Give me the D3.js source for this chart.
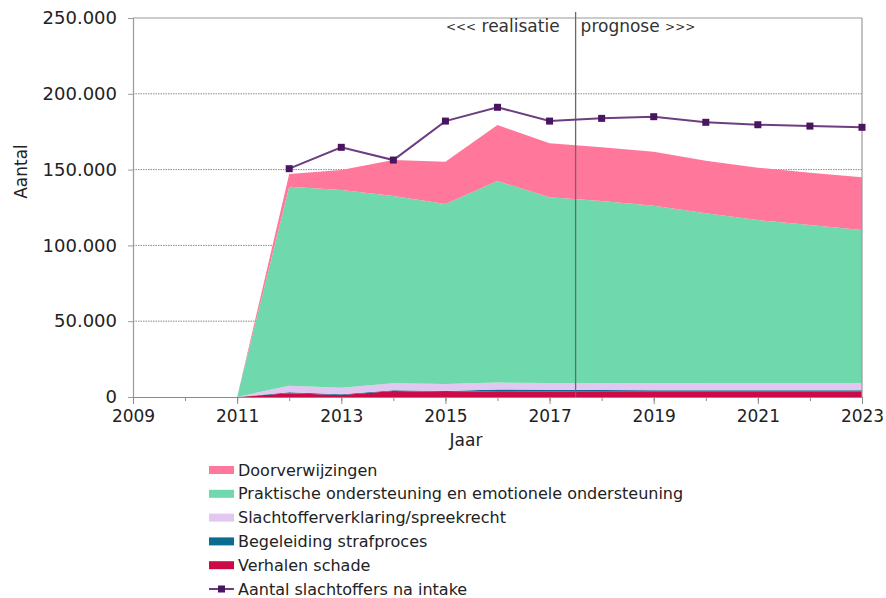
<!DOCTYPE html>
<html>
<head>
<meta charset="utf-8">
<script src="https://cdn.jsdelivr.net/npm/d3@7/dist/d3.min.js"></script>
<style>
  html, body { margin: 0; padding: 0; background: #ffffff; }
  svg { display: block; font-family: "DejaVu Sans", Verdana, sans-serif; }
</style>
</head>
<body>
<svg id="chart" width="886" height="598"></svg>
<script>
// Years covered by the stacked areas (2011 is the zero starting point)
const years = [2011, 2012, 2013, 2014, 2015, 2016, 2017, 2018, 2019, 2020, 2021, 2022, 2023];

// Stacked series, bottom to top
const verhalenSchade      = [0, 2400, 1300, 4000, 3300, 3800, 3600, 3500, 3500, 3400, 3400, 3400, 3400];
const begeleidingStraf    = [0, 700, 500, 400, 700, 1200, 1200, 1100, 1000, 1100, 1000, 1000, 1000];
const slachtofferverkl    = [0, 4300, 4300, 4600, 4600, 4500, 4500, 4600, 4700, 4600, 4600, 4600, 4600];
const praktischeOnderst   = [0, 131300, 130400, 123600, 118700, 133000, 122400, 120100, 117000, 112100, 107700, 104500, 101200];
const doorverwijzingen    = [0, 8400, 13200, 23700, 27900, 36900, 35600, 35400, 35600, 34700, 34600, 34500, 34700];

// Line series: victims after intake (from 2012)
const intakeYears = [2012, 2013, 2014, 2015, 2016, 2017, 2018, 2019, 2020, 2021, 2022, 2023];
const slachtoffersNaIntake = [150600, 164700, 156300, 182000, 191100, 182000, 183800, 184900, 181200, 179600, 178700, 177900];

// Axis ticks
const xTickLabels = [2009, 2011, 2013, 2015, 2017, 2019, 2021, 2023];
const xMinorTicks = d3.range(2009, 2024);
const yTicks = [0, 50000, 100000, 150000, 200000, 250000];

const seriesNames = [
  "Verhalen schade",
  "Begeleiding strafproces",
  "Slachtofferverklaring/spreekrecht",
  "Praktische ondersteuning en emotionele ondersteuning",
  "Doorverwijzingen"
];
const seriesColors = ["#cc0a45", "#0a6d8f", "#e2c8f0", "#6fd8ad", "#ff779b"];
const lineName = "Aantal slachtoffers na intake";
const lineColor = "#6e3d80";
const markerColor = "#4a1560";

const svg = d3.select("#chart");
const margin = { left: 133, right: 24, top: 18, bottom: 201 };
const W = 886, H = 598;
const x = d3.scaleLinear().domain([2009, 2023]).range([margin.left, W - margin.right]);
const y = d3.scaleLinear().domain([0, 250000]).range([H - margin.bottom, margin.top]);

const fmt = v => v === 0 ? "0" : d3.format(",")(v).replace(/,/g, ".");

// Gridlines (dotted)
svg.append("g")
  .selectAll("line")
  .data(yTicks.filter(v => v > 0 && v < 250000))
  .join("line")
  .attr("x1", x(2009)).attr("x2", x(2023))
  .attr("y1", d => y(d)).attr("y2", d => y(d))
  .attr("stroke", "#8a8a8a").attr("stroke-width", 1)
  .attr("stroke-dasharray", "1.5,1");

// Stacked areas
const table = years.map((yr, i) => ({
  year: yr,
  s0: verhalenSchade[i], s1: begeleidingStraf[i], s2: slachtofferverkl[i],
  s3: praktischeOnderst[i], s4: doorverwijzingen[i]
}));
const stack = d3.stack().keys(["s0", "s1", "s2", "s3", "s4"]);
const layers = stack(table);
const area = d3.area()
  .x(d => x(d.data.year))
  .y0(d => y(d[0]))
  .y1(d => y(d[1]));
svg.append("g")
  .selectAll("path")
  .data(layers)
  .join("path")
  .attr("d", area)
  .attr("fill", (d, i) => seriesColors[i]);

// Plot frame: top and right border
svg.append("line")
  .attr("x1", x(2009)).attr("x2", x(2023)).attr("y1", y(250000)).attr("y2", y(250000))
  .attr("stroke", "#9a9a9a").attr("stroke-width", 1.2);
svg.append("line")
  .attr("x1", x(2023)).attr("x2", x(2023)).attr("y1", y(250000)).attr("y2", y(0))
  .attr("stroke", "#9a9a9a").attr("stroke-width", 1.2);

// Divider between realised and forecast years
svg.append("line")
  .attr("x1", x(2017.5)).attr("x2", x(2017.5))
  .attr("y1", 12).attr("y2", y(0))
  .attr("stroke", "#6a6a6a").attr("stroke-width", 1.3);
const tLeft = svg.append("text")
  .attr("x", x(2017.5) - 16).attr("y", 32)
  .attr("text-anchor", "end")
  .attr("font-size", 17).attr("fill", "#333");
tLeft.append("tspan").attr("font-size", 12).attr("dy", -1).text("<<<");
tLeft.append("tspan").attr("dy", 1).text(" realisatie");
const tRight = svg.append("text")
  .attr("x", x(2017.5) + 5).attr("y", 32)
  .attr("text-anchor", "start")
  .attr("font-size", 17).attr("fill", "#333");
tRight.append("tspan").text("prognose ");
tRight.append("tspan").attr("font-size", 12).attr("dy", -1).text(">>>");

// Y axis
const yAxis = d3.axisLeft(y).tickValues(yTicks).tickFormat(fmt).tickSize(5).tickPadding(11);
const gy = svg.append("g").attr("transform", `translate(${margin.left},0)`).call(yAxis);
gy.select(".domain").attr("stroke", "#9a9a9a").attr("stroke-width", 1.2);
gy.selectAll(".tick line").attr("stroke", "#9a9a9a");
gy.selectAll(".tick text").attr("font-size", 18).attr("fill", "#222")
  .attr("font-family", "DejaVu Sans, Verdana, sans-serif");

// X axis: minor ticks every year, labelled ticks every two years
const gxMinor = svg.append("g").attr("transform", `translate(0,${y(0)})`)
  .call(d3.axisBottom(x).tickValues(xMinorTicks).tickFormat("").tickSize(4).tickSizeOuter(0));
gxMinor.select(".domain").attr("stroke", "#8a8a8a").attr("stroke-width", 1.2);
gxMinor.selectAll(".tick line").attr("stroke", "#8a8a8a");
const gx = svg.append("g").attr("transform", `translate(0,${y(0)})`)
  .call(d3.axisBottom(x).tickValues(xTickLabels).tickFormat(d3.format("d")).tickSize(7).tickSizeOuter(0).tickPadding(6));
gx.select(".domain").remove();
gx.selectAll(".tick line").attr("stroke", "#8a8a8a");
gx.selectAll(".tick text").attr("font-size", 17).attr("fill", "#222")
  .attr("font-family", "DejaVu Sans, Verdana, sans-serif");

// Axis titles
svg.append("text")
  .attr("transform", `translate(27,${(y(250000) + y(0)) / 2 - 36}) rotate(-90)`)
  .attr("text-anchor", "middle").attr("font-size", 17).attr("fill", "#222")
  .text("Aantal");
svg.append("text")
  .attr("x", 466).attr("y", 446)
  .attr("text-anchor", "middle").attr("font-size", 17).attr("fill", "#222")
  .text("Jaar");

// Line with square markers
const line = d3.line().x((d, i) => x(intakeYears[i])).y(d => y(d));
svg.append("path")
  .datum(slachtoffersNaIntake)
  .attr("d", line)
  .attr("fill", "none").attr("stroke", lineColor).attr("stroke-width", 2);
svg.append("g")
  .selectAll("rect")
  .data(slachtoffersNaIntake)
  .join("rect")
  .attr("x", (d, i) => x(intakeYears[i]) - 3.5)
  .attr("y", d => y(d) - 3.5)
  .attr("width", 7).attr("height", 7)
  .attr("fill", markerColor);

// Legend
const legendItems = seriesNames.map((n, i) => ({ name: n, color: seriesColors[i] })).reverse();
const lg = svg.append("g").attr("transform", "translate(209,470)");
legendItems.forEach((it, i) => {
  const g = lg.append("g").attr("transform", `translate(0,${i * 23.8})`);
  g.append("rect").attr("x", 0).attr("y", -4).attr("width", 25).attr("height", 8).attr("fill", it.color);
  g.append("text").attr("x", 29).attr("y", 5.5).attr("font-size", 16).attr("fill", "#222").text(it.name);
});
const lgLine = lg.append("g").attr("transform", `translate(0,${5 * 23.8})`);
lgLine.append("line").attr("x1", 0).attr("x2", 25).attr("y1", 0).attr("y2", 0)
  .attr("stroke", lineColor).attr("stroke-width", 2);
lgLine.append("rect").attr("x", 9).attr("y", -3.5).attr("width", 7).attr("height", 7).attr("fill", markerColor);
lgLine.append("text").attr("x", 29).attr("y", 5.5).attr("font-size", 16).attr("fill", "#222").text(lineName);
</script>
</body>
</html>
